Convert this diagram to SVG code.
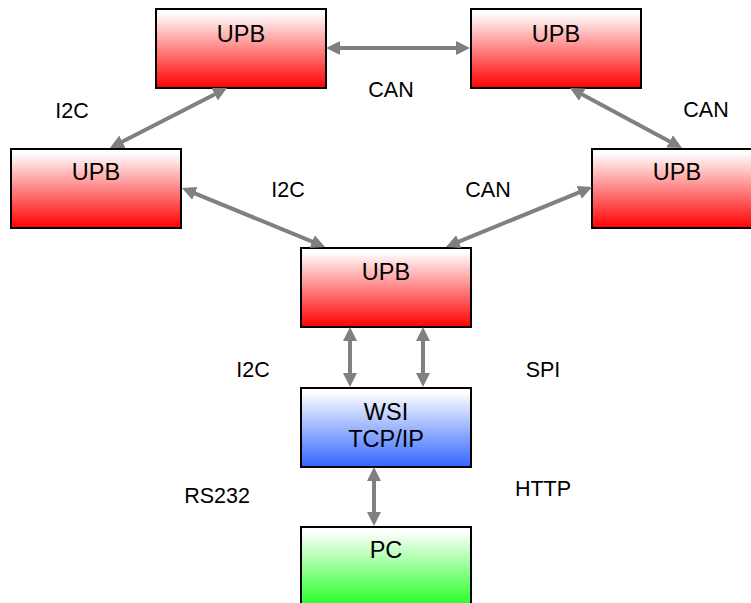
<svg xmlns="http://www.w3.org/2000/svg" width="751" height="603" viewBox="0 0 751 603">
<style>
.box{stroke:#000;stroke-width:2}
.t{font-family:"Liberation Sans",Arial,sans-serif;font-size:23.5px;fill:#000;text-anchor:middle}
.l{font-family:"Liberation Sans",Arial,sans-serif;font-size:21.5px;fill:#000;text-anchor:middle}
.c{stroke:#808080;stroke-width:4;fill:none;marker-start:url(#ah);marker-end:url(#ah)}
</style>
<defs>
<linearGradient id="gr" x1="0" y1="0" x2="0" y2="1"><stop offset="0.05" stop-color="#ffffff"/><stop offset="1" stop-color="#ff0000"/></linearGradient>
<linearGradient id="gb" x1="0" y1="0" x2="0" y2="1"><stop offset="0.05" stop-color="#ffffff"/><stop offset="1" stop-color="#3366ff"/></linearGradient>
<linearGradient id="gg" x1="0" y1="0" x2="0" y2="1"><stop offset="0.05" stop-color="#ffffff"/><stop offset="1" stop-color="#22ff22"/></linearGradient>
<marker id="ah" markerUnits="userSpaceOnUse" markerWidth="15" markerHeight="15" refX="8" refY="7" orient="auto-start-reverse" viewBox="0 0 15 15">
<path d="M0,0 L14,7 L0,14 z" fill="#808080"/>
</marker>
</defs>
<g id="upb-top-left"><rect class="box" x="156" y="9" width="170" height="79" fill="url(#gr)"/><text class="t" x="241" y="42">UPB</text></g>
<g id="upb-top-right"><rect class="box" x="471" y="9" width="170" height="79" fill="url(#gr)"/><text class="t" x="556" y="42">UPB</text></g>
<g id="upb-left"><rect class="box" x="11" y="149" width="170" height="79" fill="url(#gr)"/><text class="t" x="96" y="180">UPB</text></g>
<g id="upb-right"><rect class="box" x="592" y="149" width="170" height="79" fill="url(#gr)"/><text class="t" x="677" y="180">UPB</text></g>
<g id="upb-center"><rect class="box" x="301" y="248" width="170" height="79" fill="url(#gr)"/><text class="t" x="386" y="280">UPB</text></g>
<g id="wsi"><rect class="box" x="301" y="388" width="170" height="79" fill="url(#gb)"/><text class="t" x="386" y="420">WSI</text><text class="t" x="386" y="447">TCP/IP</text></g>
<g id="pc"><rect class="box" x="301" y="527" width="170" height="80" fill="url(#gg)"/><text class="t" x="386" y="558">PC</text></g>
<g id="connectors">
<path class="c" d="M332,48 L464,48"/>
<path class="c" d="M221.7,90.7 L115.3,145.3"/>
<path class="c" d="M575.3,90.8 L676.7,145.2"/>
<path class="c" d="M187.5,190.3 L319.5,244.7"/>
<path class="c" d="M586.5,189.3 L451.5,244.7"/>
<path class="c" d="M350,333 L350,381"/>
<path class="c" d="M423,333 L423,381"/>
<path class="c" d="M374,473 L374,520"/>
</g>
<g id="labels">
<text class="l" x="391" y="97">CAN</text>
<text class="l" x="72" y="118">I2C</text>
<text class="l" x="706" y="117">CAN</text>
<text class="l" x="288" y="197">I2C</text>
<text class="l" x="488" y="197">CAN</text>
<text class="l" x="253" y="377">I2C</text>
<text class="l" x="543" y="377">SPI</text>
<text class="l" x="217" y="503">RS232</text>
<text class="l" x="543" y="496">HTTP</text>
</g>
</svg>
